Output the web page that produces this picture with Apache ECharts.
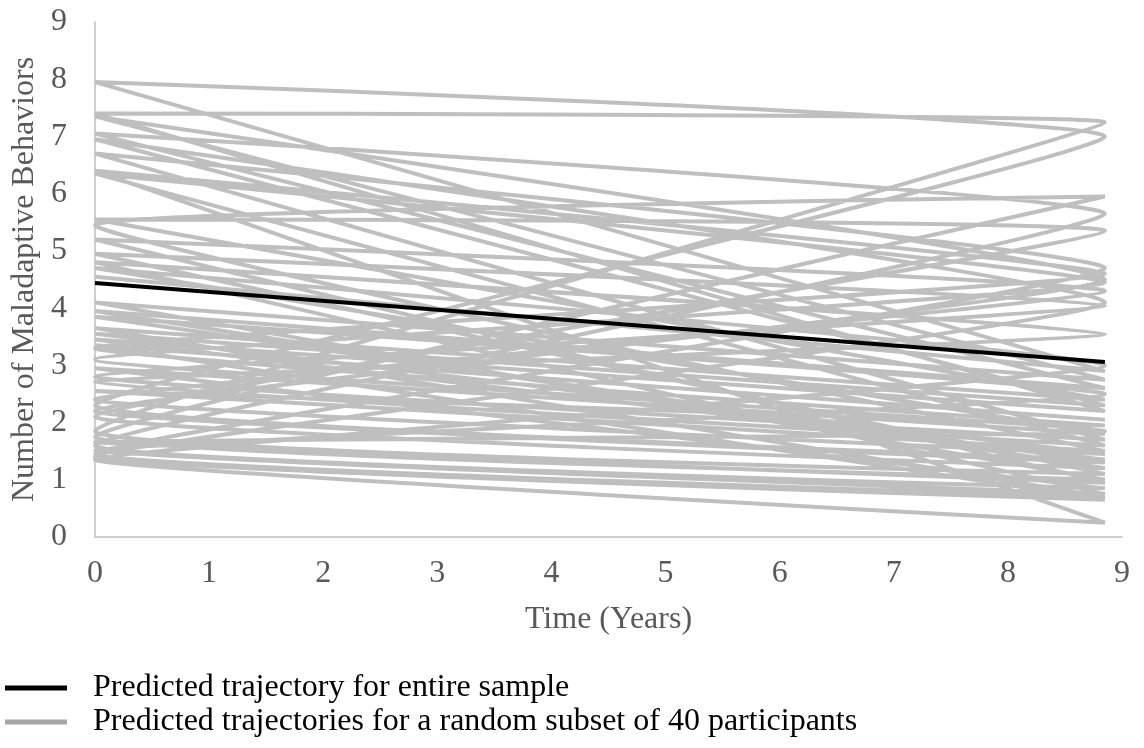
<!DOCTYPE html>
<html>
<head>
<meta charset="utf-8">
<script src="https://cdn.jsdelivr.net/npm/echarts@6/dist/echarts.min.js"></script>
<style>
  html, body { margin: 0; padding: 0; background: #fff; }
  #main { width: 1144px; height: 748px; }
</style>
</head>
<body>
<div id="main"></div>
<script>
// time points (years) for each predicted trajectory
const timePoints = [0, 8.85];

// whole-sample predicted trajectory
const sampleTrajectory = [4.44, 3.06];

// 40 participants: predicted value at start and at end (in plotting order)
const participantStart = [
  4.55, 7.95, 2.3, 3.45, 7.4, 1.85, 4.95, 2.8, 6.7, 1.45,
  3.65, 5.55, 2.1, 3.95, 7.05, 1.6, 2.95, 4.7, 1.35, 6.4,
  3.3, 2.55, 5.45, 1.75, 4.1, 7.35, 2.2, 3.85, 1.5, 4.8,
  2.7, 6.35, 3.1, 1.65, 5.2, 2.4, 3.55, 6.95, 1.4, 3.35
];
const participantEnd = [
  2.9, 7.0, 1.35, 2.2, 7.25, 1.1, 4.05, 1.7, 4.7, 0.7,
  2.4, 5.35, 1.2, 2.6, 5.65, 0.85, 1.8, 3.0, 0.25, 4.6,
  1.95, 1.5, 5.95, 1.0, 2.75, 4.5, 1.3, 2.5, 0.75, 3.55,
  1.6, 4.45, 1.85, 0.95, 4.3, 1.45, 2.3, 4.1, 0.65, 2.05
];

const seriesNames = [
  'Predicted trajectory for entire sample',
  'Predicted trajectories for a random subset of 40 participants'
];

const yTicks = [0, 1, 2, 3, 4, 5, 6, 7, 8, 9];
const xTicks = [0, 1, 2, 3, 4, 5, 6, 7, 8, 9];

// one continuous smoothed line through all participants (start, end, start, end ...)
let subsetPoints = [];
participantStart.forEach((s, i) => {
  subsetPoints.push([timePoints[0], s]);
  subsetPoints.push([timePoints[1], participantEnd[i]]);
});
const samplePoints = timePoints.map((t, i) => [t, sampleTrajectory[i]]);

const fontFam = "'Liberation Serif', 'Times New Roman', serif";
const chart = echarts.init(document.getElementById('main'));

let option = {
  animation: false,
  grid: { left: 95, right: 22, top: 22, bottom: 211, containLabel: false },
  legend: {
    orient: 'vertical',
    left: 0,
    top: 667,
    itemWidth: 62,
    itemHeight: 5,
    itemGap: 2,
    icon: 'rect',
    data: seriesNames,
    textStyle: {
      fontFamily: fontFam,
      fontSize: 32,
      lineHeight: 32,
      color: '#000',
      padding: [0, 0, 0, 21]
    }
  },
  xAxis: {
    type: 'value',
    min: xTicks[0],
    max: xTicks[xTicks.length - 1],
    interval: 1,
    name: 'Time (Years)',
    nameLocation: 'middle',
    nameGap: 67,
    nameTextStyle: { fontFamily: fontFam, fontSize: 32, color: '#595959' },
    axisLine: { lineStyle: { color: '#bfbfbf', width: 1.5 } },
    axisTick: { show: false },
    splitLine: { show: false },
    axisLabel: { fontFamily: fontFam, fontSize: 32, color: '#595959', margin: 21 }
  },
  yAxis: {
    type: 'value',
    min: yTicks[0],
    max: yTicks[yTicks.length - 1],
    interval: 1,
    name: 'Number of Maladaptive Behaviors',
    nameLocation: 'middle',
    nameGap: 52,
    nameTextStyle: { fontFamily: fontFam, fontSize: 32, color: '#595959' },
    axisLine: { show: true, lineStyle: { color: '#bfbfbf', width: 1.5 } },
    axisTick: { show: false },
    splitLine: { show: false },
    axisLabel: { fontFamily: fontFam, fontSize: 32, color: '#595959', margin: 28 }
  },
  series: [
    {
      name: seriesNames[1],
      type: 'line',
      data: subsetPoints,
      smooth: 0.12,
      showSymbol: false,
      symbol: 'none',
      itemStyle: { color: '#a6a6a6' },
      lineStyle: { color: '#bfbfbf', width: 4 },
      z: 2
    },
    {
      name: seriesNames[0],
      type: 'line',
      data: samplePoints,
      showSymbol: false,
      symbol: 'none',
      itemStyle: { color: '#000' },
      lineStyle: { color: '#000', width: 4 },
      z: 3
    }
  ]
};
chart.setOption(option);
</script>
</body>
</html>
